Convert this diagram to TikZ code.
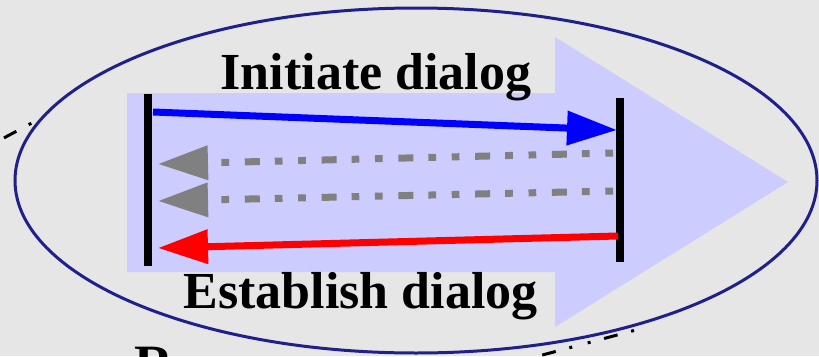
\documentclass[tikz,border=0pt]{standalone}
\usepackage{fontspec}
\setmainfont{Liberation Serif}
\usetikzlibrary{arrows.meta}

\definecolor{paper}{HTML}{E6E6E6}
\definecolor{lavender}{HTML}{CCCCFF}
\definecolor{navy}{HTML}{20208C}
\definecolor{msggrey}{HTML}{808080}

\tikzset{
  bigtip/.style={-{Triangle[length=50pt,width=33pt]}},
  message/.style={bigtip, line width=7pt},
  lifeline/.style={line width=8pt, black},
  retry/.style={message, msggrey,
    dash pattern=on 7.7pt off 15.7pt on 7.7pt off 15pt on 15pt off 15.7pt},
  guide/.style={line width=3pt, black,
    dash pattern=on 3pt off 14pt on 14pt off 14pt on 3pt off 16pt},
  caption/.style={font=\fontsize{52}{60}\selectfont\bfseries, inner sep=0pt, anchor=base},
}

\begin{document}
\begin{tikzpicture}[x=1pt, y=-1pt]
  % canvas
  \useasboundingbox (0,0) rectangle (819,356);
  \clip (0,0) rectangle (819,356);
  \fill[paper] (0,0) rectangle (819,356);

  % dash-dotted guide fragments around the ring
  \draw[guide, dash phase=17pt] (4,137.9) -- (36,120.8);
  \draw[guide] (634,330.5) -- (520,361);

  % ring
  \draw[navy, line width=3pt] (416,180.5) ellipse [x radius=401, y radius=172.5];

  % block arrow
  \fill[lavender] (127,93) -- (555,93) -- (555,37) -- (788,182)
      -- (555,327) -- (555,272) -- (127,272) -- cycle;

  % lifelines
  \coordinate (lt) at (148,94);  \coordinate (lb) at (148,266);
  \coordinate (rt) at (620,98);  \coordinate (rb) at (620,262);
  \draw[lifeline] (lt) -- (lb);
  \draw[lifeline] (rt) -- (rb);

  % message end points
  \coordinate (initA) at (153,112);  \coordinate (initB) at (617,130);
  \coordinate (r1A) at (613,153);    \coordinate (r1B) at (158,164);
  \coordinate (r2A) at (613,191);    \coordinate (r2B) at (158,201);
  \coordinate (estA) at (618,236);   \coordinate (estB) at (158,248);

  \draw[message, blue] (initA) -- (initB);
  \draw[retry] (r1A) -- (r1B);
  \draw[retry] (r2A) -- (r2B);
  \draw[message, red] (estA) -- (estB);

  % labels
  \node[caption] (init) at (376,89) {Initiate dialog};
  \node[caption] (est) at (360.5,308) {Establish dialog};
  \node[caption, anchor=base west, font=\fontsize{54}{60}\selectfont\bfseries] (tail) at (134,382) {R};
\end{tikzpicture}
\end{document}
